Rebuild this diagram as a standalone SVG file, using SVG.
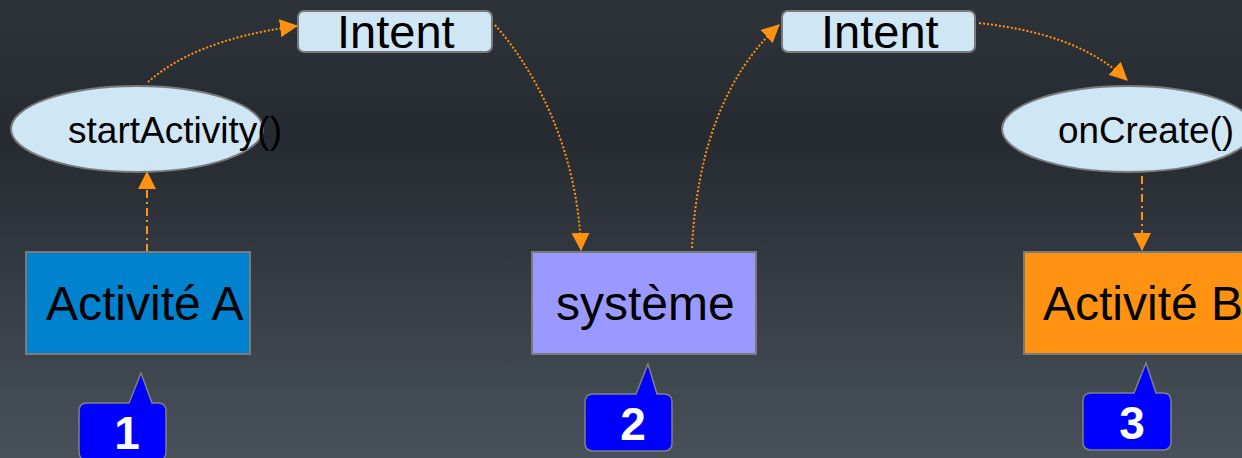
<svg xmlns="http://www.w3.org/2000/svg" width="1242" height="458" viewBox="0 0 1242 458">
<defs>
<linearGradient id="bg" x1="0" y1="0" x2="0" y2="1">
<stop offset="0" stop-color="#2e333a"/>
<stop offset="0.3" stop-color="#262a31"/>
<stop offset="1" stop-color="#48515a"/>
</linearGradient>
<marker id="arr" markerUnits="userSpaceOnUse" markerWidth="18" markerHeight="18" viewBox="0 0 18 18" refX="17" refY="9" orient="auto">
<path d="M0,0 L18,9 L0,18 z" fill="#ff9311"/>
</marker>
</defs>
<style>
.box{stroke:#7a7a7a;stroke-width:2}
.pill{fill:#cfe6f5;stroke:#7a7a7a;stroke-width:2}
.lbl{font-family:"Liberation Sans",Arial,sans-serif;fill:#000}
.badge{fill:#0000ff;stroke:#808080;stroke-width:1.5}
.num{font-family:"Liberation Sans",Arial,sans-serif;font-weight:bold;font-size:46px;fill:#fff;text-anchor:middle}
.dot{fill:none;stroke:#ff9311;stroke-width:2;stroke-dasharray:2 2}
.dd{fill:none;stroke:#ff9311;stroke-width:2;stroke-dasharray:8 4 2 4}
</style>
<rect width="1242" height="458" fill="url(#bg)"/>
<g id="connectors">
<line class="dd" x1="147" y1="252" x2="147" y2="172" marker-end="url(#arr)"/>
<path class="dot" d="M148,82 C175,58 220,36 297,26" marker-end="url(#arr)"/>
<path class="dot" d="M495,25 C535,70 578,150 581,250" marker-end="url(#arr)"/>
<path class="dot" d="M692,248 C697,150 725,75 779,25" marker-end="url(#arr)"/>
<path class="dot" d="M979,23 C1040,30 1090,45 1127,80" marker-end="url(#arr)"/>
<line class="dd" x1="1142" y1="176" x2="1142" y2="250" marker-end="url(#arr)"/>
</g>
<g id="activiteA">
<rect class="box" x="26" y="252" width="224" height="102" fill="#0082cf"/>
<text class="lbl" x="46" y="320" font-size="48">Activité A</text>
</g>
<g id="systeme">
<rect class="box" x="532" y="252" width="224" height="102" fill="#9999ff"/>
<text class="lbl" x="556" y="320" font-size="48">système</text>
</g>
<g id="activiteB">
<rect class="box" x="1024" y="252" width="226" height="102" fill="#ff9311"/>
<text class="lbl" x="1043" y="320" font-size="48">Activité B</text>
</g>
<g id="startActivity">
<ellipse class="pill" cx="137" cy="129" rx="126" ry="43"/>
<text class="lbl" x="68" y="143" font-size="37" textLength="214" lengthAdjust="spacingAndGlyphs">startActivity()</text>
</g>
<g id="onCreate">
<ellipse class="pill" cx="1128" cy="129" rx="126" ry="43"/>
<text class="lbl" x="1058" y="143" font-size="37" textLength="176" lengthAdjust="spacingAndGlyphs">onCreate()</text>
</g>
<g id="intent1">
<rect class="pill" x="298" y="11" width="194" height="41" rx="6"/>
<text class="lbl" x="337" y="48" font-size="47">Intent</text>
</g>
<g id="intent2">
<rect class="pill" x="782" y="11" width="193" height="41" rx="6"/>
<text class="lbl" x="821" y="48" font-size="47">Intent</text>
</g>
<g id="badge1">
<path class="badge" d="M87,403 L129,403 L141,373 L152,403 L158,403 Q166,403 166,411 L166,452 Q166,460 158,460 L87,460 Q79,460 79,452 L79,411 Q79,403 87,403 Z"/>
<text class="num" x="127" y="449">1</text>
</g>
<g id="badge2">
<path class="badge" d="M593,394 L636,394 L648,364 L657,394 L664,394 Q672,394 672,402 L672,443 Q672,451 664,451 L593,451 Q585,451 585,443 L585,402 Q585,394 593,394 Z"/>
<text class="num" x="633" y="440">2</text>
</g>
<g id="badge3">
<path class="badge" d="M1091,393 L1134,393 L1146,363 L1156,393 L1163,393 Q1171,393 1171,401 L1171,442 Q1171,450 1163,450 L1091,450 Q1083,450 1083,442 L1083,401 Q1083,393 1091,393 Z"/>
<text class="num" x="1132" y="439">3</text>
</g>
</svg>
